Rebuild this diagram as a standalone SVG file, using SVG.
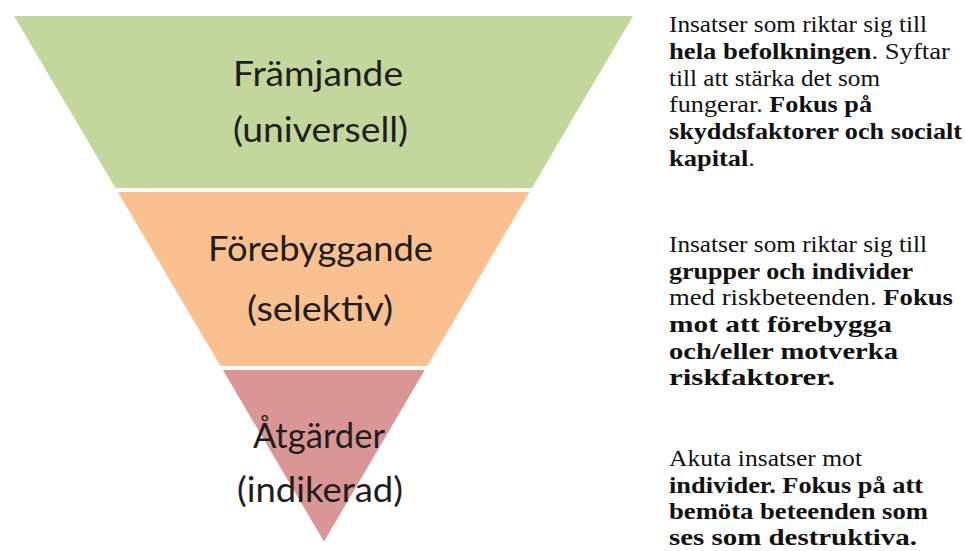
<svg xmlns="http://www.w3.org/2000/svg" width="965" height="551" viewBox="0 0 965 551">
<style>
.tier{font-family:Lato,"Open Sans","Liberation Sans",sans-serif;font-size:34px;fill:#1e1e1e;text-anchor:middle}
.desc{font-family:'Liberation Serif','Times New Roman',Times,Tinos,serif;font-size:24px;fill:#111}
.b{font-weight:bold}
</style>
<rect width="965" height="551" fill="#ffffff"/>
<g id="tier-universal">
<polygon points="14,16 633,16 531.9,188 115.5,188" fill="#c3d69b"/>
<text class="tier" x="318" y="86" textLength="170" lengthAdjust="spacingAndGlyphs">Främjande</text>
<text class="tier" x="320.5" y="142" textLength="175" lengthAdjust="spacingAndGlyphs">(universell)</text>
</g>
<g id="tier-selective">
<polygon points="117.8,192 529.5,192 427.2,366 220.5,366" fill="#fac08f"/>
<text class="tier" x="320.5" y="261" textLength="225" lengthAdjust="spacingAndGlyphs">Förebyggande</text>
<text class="tier" x="320" y="321" textLength="146" lengthAdjust="spacingAndGlyphs">(selektiv)</text>
</g>
<g id="tier-indicated">
<polygon points="222.9,370 424.8,370 324,541.5" fill="#d99694"/>
<text class="tier" x="319" y="448" textLength="132" lengthAdjust="spacingAndGlyphs">Åtgärder</text>
<text class="tier" x="320" y="502" textLength="166" lengthAdjust="spacingAndGlyphs">(indikerad)</text>
</g>
<g id="desc-universal">
<text class="desc" x="669" y="32" textLength="258" lengthAdjust="spacingAndGlyphs">Insatser som riktar sig till</text>
<text class="desc" x="669" y="59" textLength="281" lengthAdjust="spacingAndGlyphs"><tspan class="b">hela befolkningen</tspan>. Syftar</text>
<text class="desc" x="669" y="86" textLength="211" lengthAdjust="spacingAndGlyphs">till att stärka det som</text>
<text class="desc" x="669" y="112" textLength="203" lengthAdjust="spacingAndGlyphs">fungerar. <tspan class="b">Fokus på</tspan></text>
<text class="desc b" x="669" y="139" textLength="293" lengthAdjust="spacingAndGlyphs">skyddsfaktorer och socialt</text>
<text class="desc" x="669" y="166" textLength="86" lengthAdjust="spacingAndGlyphs"><tspan class="b">kapital</tspan>.</text>
</g>
<g id="desc-selective">
<text class="desc" x="669" y="252" textLength="258" lengthAdjust="spacingAndGlyphs">Insatser som riktar sig till</text>
<text class="desc b" x="669" y="279" textLength="244" lengthAdjust="spacingAndGlyphs">grupper och individer</text>
<text class="desc" x="669" y="305" textLength="284" lengthAdjust="spacingAndGlyphs">med riskbeteenden. <tspan class="b">Fokus</tspan></text>
<text class="desc b" x="669" y="332" textLength="223" lengthAdjust="spacingAndGlyphs">mot att förebygga</text>
<text class="desc b" x="669" y="359" textLength="229" lengthAdjust="spacingAndGlyphs">och/eller motverka</text>
<text class="desc b" x="669" y="385" textLength="166" lengthAdjust="spacingAndGlyphs">riskfaktorer.</text>
</g>
<g id="desc-indicated">
<text class="desc" x="669" y="466" textLength="193" lengthAdjust="spacingAndGlyphs">Akuta insatser mot</text>
<text class="desc b" x="669" y="493" textLength="254" lengthAdjust="spacingAndGlyphs">individer. Fokus på att</text>
<text class="desc b" x="669" y="519" textLength="259" lengthAdjust="spacingAndGlyphs">bemöta beteenden som</text>
<text class="desc b" x="669" y="545" textLength="248" lengthAdjust="spacingAndGlyphs">ses som destruktiva.</text>
</g>
</svg>
